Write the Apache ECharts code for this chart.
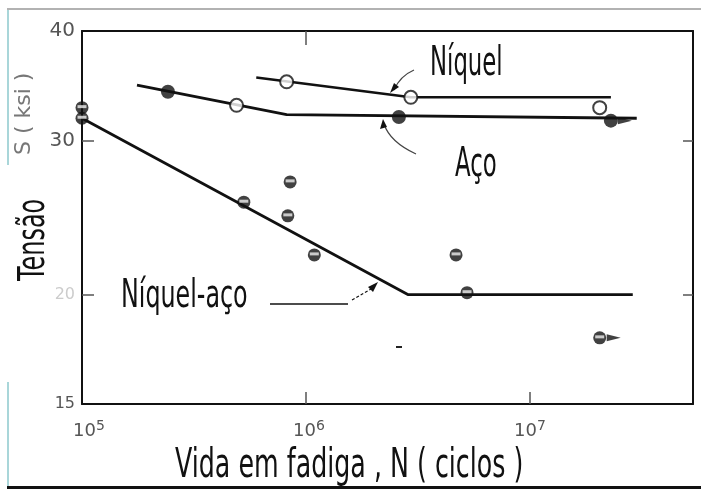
<!DOCTYPE html>
<html>
<head>
    <meta charset="utf-8">
    <title>Vida em fadiga</title>
    <script src="https://cdn.jsdelivr.net/npm/echarts@6.0.0/dist/echarts.min.js"></script>
    <style>
        html, body { margin: 0; padding: 0; background: #fff; }
    </style>
</head>
<body>
<div id="chart" style="width: 701px; height: 489px;"></div>
<script>
    // dados: [N ciclos, S ksi]
    var niquelLinha = [[6.0e5, 35.4], [2.94e6, 33.6], [2.3e7, 33.6]];
    var acoLinha = [[1.76e5, 34.7], [8.2e5, 32.1], [3.0e7, 31.8]];
    var niquelAcoLinha = [[1.0e5, 31.8], [2.85e6, 20.0], [2.88e7, 20.0]];

    var pontosAbertos = [[8.2e5, 35.0], [4.9e5, 32.9], [2.94e6, 33.6], [2.05e7, 32.7]];
    var pontosCheios = [[2.42e5, 34.1], [2.6e6, 31.9], [2.3e7, 31.6]];
    var pontosMeios = [[1.0e5, 32.7], [1.0e5, 31.8], [5.28e5, 25.5], [8.5e5, 26.9], [8.3e5, 24.6],
        [1.09e6, 22.2], [4.68e6, 22.2], [5.24e6, 20.1], [2.05e7, 17.85]];
    var semRuptura = [[2.3e7, 31.6], [2.05e7, 17.85]];

    var xTicks = [1e5, 1e6, 1e7];
    var yTicks = [15, 20, 30, 40];

    var chart = echarts.init(document.getElementById('chart'));

    var font = 'DejaVu Sans';
    function texto(txt, x, y, size, sx, rot, color) {
        return {
            type: 'text', x: x, y: y, scaleX: sx, rotation: rot || 0,
            style: { text: txt, font: size + 'px "' + font + '"', fill: color || '#111',
                textAlign: 'left', textVerticalAlign: 'top' },
            z: 50
        };
    }
    function traco(pts, w, dash) {
        return { type: 'polyline', shape: { points: pts },
            style: { stroke: '#111', lineWidth: w || 1.2, fill: null, lineDash: dash || null }, z: 40 };
    }
    function ponta(pts) {
        return { type: 'polygon', shape: { points: pts }, style: { fill: '#111' }, z: 40 };
    }

    var linha = function (data, w) {
        return { type: 'line', data: data, symbol: 'none', clip: false,
            lineStyle: { color: '#111', width: w }, z: 3 };
    };

    var option = {
        backgroundColor: '#fff',
        animation: false,
        grid: { left: 82, top: 31, right: 8, bottom: 85 },
        xAxis: [{
            type: 'log', logBase: 10, min: 1e5, max: 5.35e7,
            axisLine: { lineStyle: { color: '#111', width: 2 } },
            axisTick: { inside: true, length: 12, customValues: [1e6, 1e7], lineStyle: { color: '#555', width: 1.5 } },
            splitLine: { show: false },
            axisLabel: {
                customValues: xTicks, margin: 15,
                formatter: function (v) {
                    var e = Math.round(Math.log10(v));
                    var pre = e === 5 ? '{e|}' : (e === 6 ? '{m|}' : '');
                    return pre + '{b|10}{s|' + e + '}';
                },
                rich: {
                    b: { fontSize: 18, color: '#555', fontFamily: font },
                    s: { fontSize: 14, color: '#555', fontFamily: font, padding: [0, 0, 10, 0] },
                    e: { width: 14 },
                    m: { width: 6 }
                }
            }
        }, {
            type: 'log', logBase: 10, min: 1e5, max: 5.35e7, position: 'top',
            axisLine: { lineStyle: { color: '#111', width: 2 } },
            axisTick: { inside: true, length: 14, customValues: [1e6], lineStyle: { color: '#555', width: 1.5 } },
            axisLabel: { show: false }, splitLine: { show: false }
        }],
        yAxis: [{
            type: 'log', logBase: 10, min: 15, max: 40,
            axisLine: { lineStyle: { color: '#111', width: 2 } },
            axisTick: { inside: true, length: 12, customValues: [20, 30], lineStyle: { color: '#555', width: 1.5 } },
            splitLine: { show: false },
            axisLabel: {
                customValues: yTicks, margin: 7,
                formatter: function (v) {
                    if (v === 15) return '{p|15}';
                    if (v === 20) return '{f|20}';
                    return '{g|' + v + '}';
                },
                rich: {
                    g: { fontSize: 20, color: '#555', fontFamily: font },
                    p: { fontSize: 16, color: '#555', fontFamily: font },
                    f: { fontSize: 16, color: '#ccc', fontFamily: font }
                }
            }
        }, {
            type: 'log', logBase: 10, min: 15, max: 40, position: 'right',
            axisLine: { lineStyle: { color: '#111', width: 2 } },
            axisTick: { inside: true, length: 10, customValues: [20, 30], lineStyle: { color: '#555', width: 1.5 } },
            axisLabel: { show: false }, splitLine: { show: false }
        }],
        series: [
            linha(niquelLinha, 2.5),
            linha(acoLinha, 2.8),
            linha(niquelAcoLinha, 2.8),
            {
                type: 'scatter', data: semRuptura, symbol: 'triangle', symbolRotate: -90,
                symbolSize: [7, 14], symbolOffset: [14, 0], itemStyle: { color: '#111' }, z: 4, clip: false
            },
            {
                type: 'scatter', data: pontosAbertos, symbol: 'circle', symbolSize: 13, clip: false,
                itemStyle: { color: '#fff', borderColor: '#111', borderWidth: 2 }, z: 5
            },
            {
                type: 'scatter', data: pontosCheios, symbol: 'circle', symbolSize: 14, clip: false,
                itemStyle: { color: '#111' }, z: 5
            },
            {
                type: 'scatter', data: pontosMeios, symbol: 'circle', symbolSize: 13, clip: false,
                itemStyle: { color: '#111' }, z: 5
            },
            {
                type: 'scatter', data: pontosMeios, symbol: 'rect', symbolSize: [9, 3], symbolOffset: [0, -1],
                clip: false, itemStyle: { color: '#eee' }, z: 6
            }
        ],
        graphic: [
            texto('Níquel', 430, 45, 40, 0.57),
            texto('Aço', 455, 146, 40, 0.57),
            texto('Níquel-aço', 121, 277, 39, 0.61),
            texto('Vida em fadiga , N ( ciclos )', 175, 447, 40, 0.633),
            texto('Tensão', 15, 281, 38, 0.63, Math.PI / 2),
            texto('S ( ksi )', 13, 155, 22, 1, Math.PI / 2, '#777'),
            // anotacoes
            { type: 'bezierCurve', shape: { x1: 414, y1: 70, x2: 394, y2: 90, cpx1: 400, cpy1: 76 },
                style: { stroke: '#444', lineWidth: 1.2, fill: null }, z: 40 },
            ponta([[390, 93], [394, 83], [399, 87]]),
            { type: 'bezierCurve', shape: { x1: 416, y1: 154, x2: 384, y2: 124, cpx1: 390, cpy1: 142 },
                style: { stroke: '#444', lineWidth: 1.2, fill: null }, z: 40 },
            ponta([[383, 119], [380, 129], [387, 127]]),
            traco([[270, 304], [348, 304]], 1.6),
            traco([[352, 300], [371, 289]], 1.2, [3, 2]),
            ponta([[378, 282], [368, 287], [373, 292]]),
            { type: 'rect', shape: { x: 396, y: 346, width: 6, height: 2 }, style: { fill: '#222' } },
            // bordas da imagem
            { type: 'line', shape: { x1: 7, y1: 9, x2: 701, y2: 9 }, style: { stroke: '#999', lineWidth: 1.5 } },
            { type: 'line', shape: { x1: 8, y1: 10, x2: 8, y2: 165 }, style: { stroke: '#8cc8cc', lineWidth: 1.5 } },
            { type: 'line', shape: { x1: 8, y1: 382, x2: 8, y2: 489 }, style: { stroke: '#8cc8cc', lineWidth: 1.5 } },
            { type: 'rect', shape: { x: 7, y: 486, width: 694, height: 3 }, style: { fill: '#111' } }
        ]
    };

    chart.setOption(option);
</script>
</body>
</html>
